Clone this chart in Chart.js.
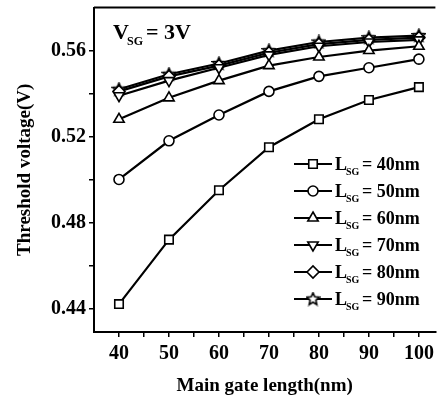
<!DOCTYPE html>
<html>
<head>
<meta charset="utf-8">
<script src="https://cdn.jsdelivr.net/npm/chart.js@4"></script>
<style>
  html, body { margin: 0; padding: 0; background: #fff; }
  #wrap { width: 443px; height: 407px; }
</style>
</head>
<body>
<div id="wrap"><canvas id="myChart" width="443" height="407"></canvas></div>
<script>
var gateLength = [40, 50, 60, 70, 80, 90, 100];
var vt40 = [0.442, 0.472, 0.495, 0.515, 0.528, 0.537, 0.543];
var vt50 = [0.500, 0.518, 0.530, 0.541, 0.548, 0.552, 0.556];
var vt60 = [0.528, 0.538, 0.546, 0.553, 0.557, 0.560, 0.562];
var vt70 = [0.539, 0.546, 0.552, 0.558, 0.562, 0.564, 0.565];
var vt80 = [0.541, 0.548, 0.553, 0.559, 0.563, 0.565, 0.566];
var vt90 = [0.542, 0.549, 0.554, 0.560, 0.564, 0.566, 0.567];
var seriesNames = ['40nm', '50nm', '60nm', '70nm', '80nm', '90nm'];
var xTicks = [40, 45, 50, 55, 60, 65, 70, 75, 80, 85, 90, 95, 100];
var yTicks = [0.44, 0.46, 0.48, 0.50, 0.52, 0.54, 0.56];

var FONT = "'Liberation Serif', 'Times New Roman', serif";

// open 5-point star used as a marker
var star = document.createElement('canvas');
star.width = 15; star.height = 15;
(function () {
  var c = star.getContext('2d');
  c.beginPath();
  for (var i = 0; i < 10; i++) {
    var r = i % 2 === 0 ? 6.5 : 3;
    var a = -Math.PI / 2 + i * Math.PI / 5;
    c.lineTo(7.5 + r * Math.cos(a), 7.8 + r * Math.sin(a));
  }
  c.closePath();
  c.fillStyle = '#fff';
  c.fill();
  c.lineWidth = 1.6;
  c.strokeStyle = '#000';
  c.stroke();
})();

function pts(ys) {
  return gateLength.map(function (x, i) { return { x: x, y: ys[i] }; });
}

function ds(name, ys, style, radius, rotation) {
  return {
    label: name,
    data: pts(ys),
    borderColor: '#000',
    borderWidth: 2.2,
    pointStyle: style,
    pointRadius: radius,
    pointRotation: rotation || 0,
    pointBackgroundColor: '#fff',
    pointBorderColor: '#000',
    pointBorderWidth: 1.6,
    tension: 0
  };
}

var extras = {
  id: 'extras',
  afterDatasetsDraw: function (chart) {
    var ctx = chart.ctx, a = chart.chartArea;
    ctx.save();
    // top frame line
    ctx.strokeStyle = '#000';
    ctx.lineWidth = 2;
    ctx.beginPath();
    ctx.moveTo(a.left, a.top);
    ctx.lineTo(a.right, a.top);
    ctx.stroke();

    // V_SG = 3V
    ctx.fillStyle = '#000';
    ctx.textBaseline = 'alphabetic';
    ctx.textAlign = 'left';
    ctx.font = 'bold 22px ' + FONT;
    ctx.fillText('V', 113, 39);
    ctx.font = 'bold 12px ' + FONT;
    ctx.fillText('SG', 127, 45);
    ctx.font = 'bold 22px ' + FONT;
    ctx.fillText('= 3V', 146, 39);

    // legend
    chart.data.datasets.forEach(function (d, i) {
      var y = 164 + i * 27;
      ctx.strokeStyle = '#000';
      ctx.lineWidth = 2;
      ctx.beginPath();
      ctx.moveTo(294, y);
      ctx.lineTo(332, y);
      ctx.stroke();
      ctx.fillStyle = '#fff';
      ctx.strokeStyle = '#000';
      ctx.lineWidth = 1.6;
      Chart.helpers.drawPoint(ctx, {
        pointStyle: d.pointStyle,
        radius: d.pointRadius,
        rotation: d.pointRotation,
        borderWidth: 1.6
      }, 313, y);
      ctx.fillStyle = '#000';
      ctx.font = 'bold 18px ' + FONT;
      ctx.fillText('L', 335, y + 6);
      ctx.font = 'bold 10px ' + FONT;
      ctx.fillText('SG', 346, y + 11);
      ctx.font = 'bold 18px ' + FONT;
      ctx.fillText('= ' + seriesNames[i], 362, y + 6);
    });
    ctx.restore();
  }
};

var ctx = document.getElementById('myChart').getContext('2d');
var chart = new Chart(ctx, {
  type: 'line',
  data: {
    datasets: [
      ds('40nm', vt40, 'rect', 6),
      ds('50nm', vt50, 'circle', 5),
      ds('60nm', vt60, 'triangle', 6),
      ds('70nm', vt70, 'triangle', 6, 180),
      ds('80nm', vt80, 'rectRot', 6),
      ds('90nm', vt90, star, 6)
    ]
  },
  options: {
    responsive: false,
    animation: false,
    layout: { padding: { top: 2, right: 0, left: 0, bottom: 0 } },
    plugins: { legend: { display: false }, tooltip: { enabled: false } },
    scales: {
      x: {
        type: 'linear',
        min: 35,
        max: 103.3,
        afterBuildTicks: function (s) { s.ticks = xTicks.map(function (v) { return { value: v }; }); },
        afterFit: function (s) { s.height = 75; s.paddingLeft = 0; s.paddingRight = 0; },
        grid: { drawOnChartArea: false, drawTicks: true, tickLength: 5, color: '#000', lineWidth: 1.5 },
        border: { color: '#000', width: 2 },
        ticks: {
          color: '#000',
          padding: 5,
          maxRotation: 0,
          autoSkip: false,
          font: { family: FONT, size: 20, weight: 'bold' },
          callback: function (v) { return (v % 10 === 0) ? String(v) : ''; }
        },
        title: {
          display: true,
          text: 'Main gate length(nm)',
          color: '#000',
          font: { family: FONT, size: 19, weight: 'bold' },
          padding: { top: 8, bottom: 10 }
        }
      },
      y: {
        min: 0.429,
        max: 0.58,
        afterBuildTicks: function (s) { s.ticks = yTicks.map(function (v) { return { value: v }; }); },
        afterFit: function (s) { s.width = 94; s.paddingTop = 0; s.paddingBottom = 0; },
        grid: { drawOnChartArea: false, drawTicks: true, tickLength: 5, color: '#000', lineWidth: 1.5 },
        border: { color: '#000', width: 2 },
        ticks: {
          color: '#000',
          padding: 3,
          autoSkip: false,
          font: { family: FONT, size: 20, weight: 'bold' },
          callback: function (v) {
            var k = Math.round(v * 100);
            return (k % 4 === 0) ? v.toFixed(2) : '';
          }
        },
        title: {
          display: true,
          text: 'Threshold voltage(V)',
          color: '#000',
          font: { family: FONT, size: 19, weight: 'bold' },
          padding: { top: 14, bottom: 6 }
        }
      }
    }
  },
  plugins: [extras]
});
</script>
</body>
</html>
